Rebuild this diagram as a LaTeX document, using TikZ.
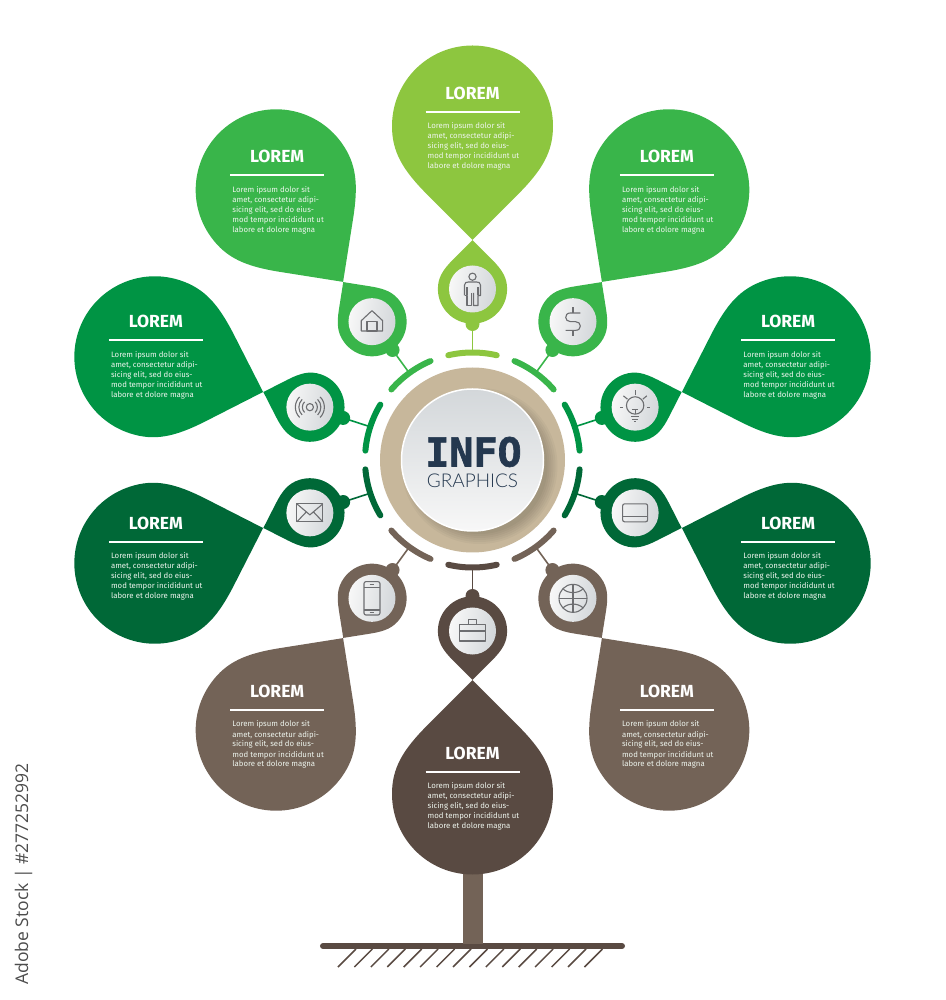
\documentclass[tikz,border=0pt]{standalone}
\usepackage{fontspec}
\setmainfont{Fira Sans}
\newfontfamily\infofont[BoldFeatures={FakeBold=1.6}]{DejaVu Sans Mono}
\newfontfamily\stockfont{Open Sans}
\newfontfamily\thinfont{Lato Light}
\definecolor{leafA}{HTML}{8DC63F}
\definecolor{leafB}{HTML}{39B54A}
\definecolor{leafC}{HTML}{009444}
\definecolor{leafD}{HTML}{006837}
\definecolor{barkA}{HTML}{736357}
\definecolor{barkB}{HTML}{594A42}
\definecolor{ringtan}{HTML}{C7B79B}
\definecolor{iconGray}{HTML}{6D6E71}
\definecolor{discGray}{HTML}{D3D7DA}
\definecolor{infoNavy}{HTML}{24384F}
\definecolor{bodyWhite}{HTML}{EEF5EE}
\newcommand{\dropshape}{(0,0) -- (45,45) .. controls (70,70) and (88,80.5) .. (113.84,80.5) arc[start angle=90, end angle=-90, radius=80.5] .. controls (88,-80.5) and (70,-70) .. (45,-45) -- cycle}
\tikzset{
	seg/.style={line width=6pt, line cap=round},
	stem/.style={line width=1.6pt},
	discnode/.style={circle, inner sep=0pt, minimum size=47pt, left color=white!97!black, right color=discGray, shading angle=80},
	headnode/.style={text=white, font=\fontsize{17.5}{17.5}\selectfont\bfseries},
	bodynode/.style={text=bodyWhite, font=\fontsize{7.8}{10}\selectfont, align=left, anchor=north west, inner sep=0pt},
	headrule/.style={draw=white, line width=1.6pt},
	icon/.style={draw=iconGray, line width=1.1pt, line join=round},
}
\begin{document}
\begin{tikzpicture}[x=1pt,y=1pt]
	\useasboundingbox (-472.5,-540) rectangle (472.5,460);

	\draw[barkB, line width=6pt, line cap=round] (-149.5,-486) -- (149.5,-486);
	\fill[barkA] (-10,-410) rectangle (10.5,-484);
	\foreach \i in {0,...,15} {
		\draw[barkB, line width=1.5pt] ({-134.5+16.43*\i},-507) -- ({-116.5+16.43*\i},-489);
	}

	\foreach \n/\a/\col/\dx/\dy in {up/90/leafA/0/32.5, ul/126/leafB/1/33, ml/162/leafC/1/35, ll/198/leafD/1/39.5, lb/234/barkA/1/38.5, dn/270/barkB/0/40.5, rb/306/barkA/-2/38.5, lr/342/leafD/-2/39.5, mr/18/leafC/-2/35, ur/54/leafB/-2/33} {
		\begin{scope}[shift={(\a:220.16)}, rotate=\a]
			\fill[\col] \dropshape;
		\end{scope}
		\begin{scope}[shift={(\a:219.9)}, rotate=\a+180, scale=.43]
			\fill[\col] \dropshape;
		\end{scope}
		\fill[\col] (\a:136) circle(7);
		\draw[seg, \col] ({\a-13}:107.5) arc[start angle=\a-13, end angle=\a+13, radius=107.5];
		\coordinate (nub\n) at (\a:136);
		\coordinate (seg\n) at (\a:107.5);
		\draw[stem, \col] (nub\n) -- (seg\n);
		\node[discnode] (disc\n) at (\a:171) {};
		\coordinate (petal\n) at (\a:334);
		\node[headnode] (head\n) at ([shift={(\dx,\dy)}]petal\n) {LOREM};
		\coordinate (rulel\n) at ([shift={(-47,-18.5)}]head\n.center);
		\coordinate (ruler\n) at ([shift={(47,-18.5)}]head\n.center);
		\draw[headrule] (rulel\n) -- (ruler\n);
		\node[bodynode] (body\n) at ([shift={(-45,-29)}]head\n.center) {Lorem ipsum dolor sit\\amet, consectetur adipi-\\sicing elit, sed do eius-\\mod tempor incididunt ut\\labore et dolore magna};
	}

	\fill[ringtan] (0,0) circle(92.5);
	\begin{scope}
		\clip (0,0) circle(92.5);
		\foreach \r in {68,70,...,78} {
			\fill[black, opacity=.03] (7,-6) circle(\r);
		}
	\end{scope}
	\node[circle, inner sep=0pt, minimum size=142pt, draw=white, line width=1.5pt, top color=discGray, bottom color=white!97!black] (maindisc) at (0,0) {};
	\node[text=infoNavy, font=\fontsize{40}{40}\selectfont\infofont\bfseries, inner sep=0pt, text height=30pt, text depth=0pt] (infotxt) at (1,8.5) {INFO};
	\node[text=infoNavy, font=\fontsize{19}{19}\selectfont\thinfont, inner sep=0pt, text height=14pt, text depth=0pt] (graphtxt) at (0,-20.5) {GRAPHICS};

	% icons
	\begin{scope}[shift={(discup.center)}]
		\draw[icon] (0,12.3) circle(3.6);
		\draw[icon] (-8,-6.5) -- (-8,4) .. controls (-8,6.5) and (-6,7) .. (-4,7) -- (4,7) .. controls (6,7) and (8,6.5) .. (8,4) -- (8,-6.5) -- (5.5,-6.5) -- (5.5,-16.5) -- (1,-16.5) -- (1,-4);
		\draw[icon] (-8,-6.5) -- (-5.5,-6.5) -- (-5.5,-16.5) -- (-1,-16.5) -- (-1,-4);
		\draw[icon] (-5.5,-6.5) -- (-5.5,2);
		\draw[icon] (5.5,-6.5) -- (5.5,2);
	\end{scope}
	\begin{scope}[shift={(discul.center)}]
		\draw[icon] (-10.7,1) -- (0,11) -- (10.7,1) -- (10.7,-9.3) -- (-10.7,-9.3) -- cycle;
		\draw[icon] (-5,-9.3) rectangle (5,0);
	\end{scope}
	\begin{scope}[shift={(discur.center)}]
		\draw[icon] (7.3,8.7) -- (-2.5,8.7) .. controls (-6,8.7) and (-7.3,6.5) .. (-7.3,4.3) .. controls (-7.3,2) and (-5.5,0) .. (-2.5,0) -- (2.5,0) .. controls (5.5,0) and (7.3,-2) .. (7.3,-4.3) .. controls (7.3,-6.5) and (6,-8.7) .. (2.5,-8.7) -- (-7.3,-8.7);
		\draw[icon] (0,8.7) -- (0,14.7);
		\draw[icon] (0,-8.7) -- (0,-14.7);
	\end{scope}
	\begin{scope}[shift={(discml.center)}]
		\draw[icon] (0,0) circle(3.6);
		\foreach \r in {7.5,11,14.5} {
			\draw[icon] (-45:\r) arc[start angle=-45, end angle=45, radius=\r];
			\draw[icon] (135:\r) arc[start angle=135, end angle=225, radius=\r];
		}
	\end{scope}
	\begin{scope}[shift={(discll.center)}]
		\draw[icon] (-13,-9) rectangle (13,9);
		\draw[icon] (-13,9) -- (0,-2) -- (13,9);
		\draw[icon] (-13,-9) -- (-3.5,1);
		\draw[icon] (13,-9) -- (3.5,1);
	\end{scope}
	\begin{scope}[shift={(discmr.center)}]
		\draw[icon] (0,1.7) circle(8.7);
		\draw[icon] (-3.3,-2.7) -- (3.3,-2.7);
		\draw[icon] (0,-2.7) -- (0,-7);
		\draw[icon] (-3.7,-9.3) -- (3.7,-9.3);
		\draw[icon] (-2.7,-12) -- (2.7,-12);
		\draw[icon] (-1.3,-14.7) -- (1.3,-14.7);
		\draw[icon] (0,12) -- (0,17);
		\draw[icon] (-7.7,8) -- (-11.7,11.3);
		\draw[icon] (7.7,8) -- (11.7,11.3);
		\draw[icon] (-12.3,0) -- (-15,0);
		\draw[icon] (12.3,0) -- (15,0);
	\end{scope}
	\begin{scope}[shift={(disclr.center)}]
		\draw[icon, rounded corners=2pt] (-12.5,-9) rectangle (12.5,9);
		\draw[icon] (-12.5,-3.3) -- (12.5,-3.3);
	\end{scope}
	\begin{scope}[shift={(disclb.center)}]
		\draw[icon, rounded corners=2pt] (-8,-16.7) rectangle (8,16.7);
		\draw[icon] (-8,10.7) -- (8,10.7);
		\draw[icon] (-8,-11.7) -- (8,-11.7);
		\draw[icon] (-2.3,13.8) -- (2.3,13.8);
		\draw[icon] (-2.3,-14.2) -- (2.3,-14.2);
	\end{scope}
	\begin{scope}[shift={(discdn.center)}]
		\draw[icon] (-13.3,-10) rectangle (13.3,6.7);
		\draw[icon] (-4.3,6.7) -- (-4.3,11.7) -- (4.3,11.7) -- (4.3,6.7);
		\draw[icon] (-13.3,0) -- (13.3,0);
		\draw[icon] (-4,-.8) rectangle (4,.8);
	\end{scope}
	\begin{scope}[shift={(discrb.center)}]
		\draw[icon] (0,0) circle(14);
		\draw[icon] (-14,0) -- (14,0);
		\draw[icon] (0,-14) -- (0,14);
		\draw[icon] (-10,9.5) .. controls (-5,4.5) and (5,4.5) .. (10,9.5);
		\draw[icon] (-10,-9.5) .. controls (-5,-4.5) and (5,-4.5) .. (10,-9.5);
	\end{scope}

	\node[rotate=90, text=black!70, font=\fontsize{17.5}{17.5}\selectfont\stockfont, inner sep=0pt] (stocktag) at (-449,-414) {Adobe Stock | \#277252992};
\end{tikzpicture}
\end{document}
